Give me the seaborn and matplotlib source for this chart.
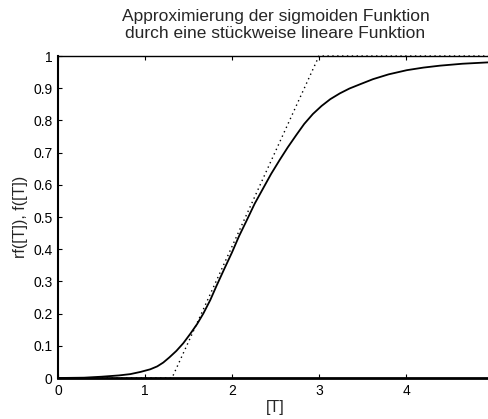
import matplotlib
matplotlib.use("Agg")
import matplotlib.pyplot as plt
import seaborn as sns
import pandas as pd

# Sigmoid curve f([T])
sig_x = [0.0, 0.3, 0.5, 0.7, 0.83, 0.95, 1.06, 1.14, 1.21, 1.28, 1.36, 1.44, 1.52, 1.60, 1.67,
         1.75, 1.82, 1.91, 2.0, 2.08, 2.17, 2.26, 2.36, 2.45, 2.55, 2.64, 2.74, 2.83, 2.93,
         3.03, 3.13, 3.24, 3.35, 3.47, 3.62, 3.80, 4.01, 4.20, 4.39, 4.65, 4.93, 5.0]
sig_y = [0.0, 0.001, 0.004, 0.008, 0.012, 0.019, 0.027, 0.036, 0.048, 0.064, 0.084, 0.108, 0.137,
         0.168, 0.200, 0.242, 0.285, 0.338, 0.390, 0.440, 0.490, 0.541, 0.590, 0.634, 0.678,
         0.716, 0.755, 0.789, 0.820, 0.845, 0.866, 0.884, 0.899, 0.912, 0.928, 0.943, 0.956,
         0.964, 0.970, 0.976, 0.980, 0.981]

# Piecewise linear approximation rf([T])
lin_x = [0.0, 1.31, 3.0, 5.0]
lin_y = [0.0, 0.0, 1.0, 1.0]

title_text = "Approximierung der sigmoiden Funktion\ndurch eine stückweise lineare Funktion"
xlabel_text = "[T]"
ylabel_text = "rf([T]), f([T])"
xticks = [0, 1, 2, 3, 4, 5]
xticklabels = ["0", "1", "2", "3", "4", ""]
yticks = [0, 0.1, 0.2, 0.3, 0.4, 0.5, 0.6, 0.7, 0.8, 0.9, 1]
yticklabels = ["0", "0.1", "0.2", "0.3", "0.4", "0.5", "0.6", "0.7", "0.8", "0.9", "1"]

sns.set_style("ticks")
plt.rcParams['font.family'] = ['Liberation Sans', 'DejaVu Sans']

fig = plt.figure(figsize=(4.88, 4.19), dpi=100)
ax = fig.add_axes([58/488, 41/419, 435/488, 322/419])

df_sig = pd.DataFrame({"x": sig_x, "y": sig_y})
df_lin = pd.DataFrame({"x": lin_x, "y": lin_y})
sns.lineplot(data=df_lin, x="x", y="y", ax=ax, color="black", linestyle=(0, (1, 2.5)),
             linewidth=1.0, clip_on=False, zorder=5)
sns.lineplot(data=df_sig, x="x", y="y", ax=ax, color="black", linewidth=1.3, zorder=4)

ax.set_xlim(0, 5)
ax.set_ylim(0, 1)
ax.set_xticks(xticks)
ax.set_yticks(yticks)
ax.set_xticklabels(xticklabels)
ax.set_yticklabels(yticklabels)
ax.tick_params(direction="in", length=3, width=0.8, labelsize=10, top=True, right=True, pad=4, colors="black")
for s in ax.spines.values():
    s.set_visible(True)
    s.set_color("black")
    s.set_linewidth(1.0)
ax.spines["bottom"].set_linewidth(2.0)
ax.spines["left"].set_linewidth(1.5)

ax.set_xlabel(xlabel_text, fontsize=11.5, labelpad=2)
ax.set_ylabel(ylabel_text, fontsize=11.5, labelpad=4)
ax.set_title(title_text, fontsize=12.5, pad=13, linespacing=1.15)

fig.savefig("out.png", dpi=100)
